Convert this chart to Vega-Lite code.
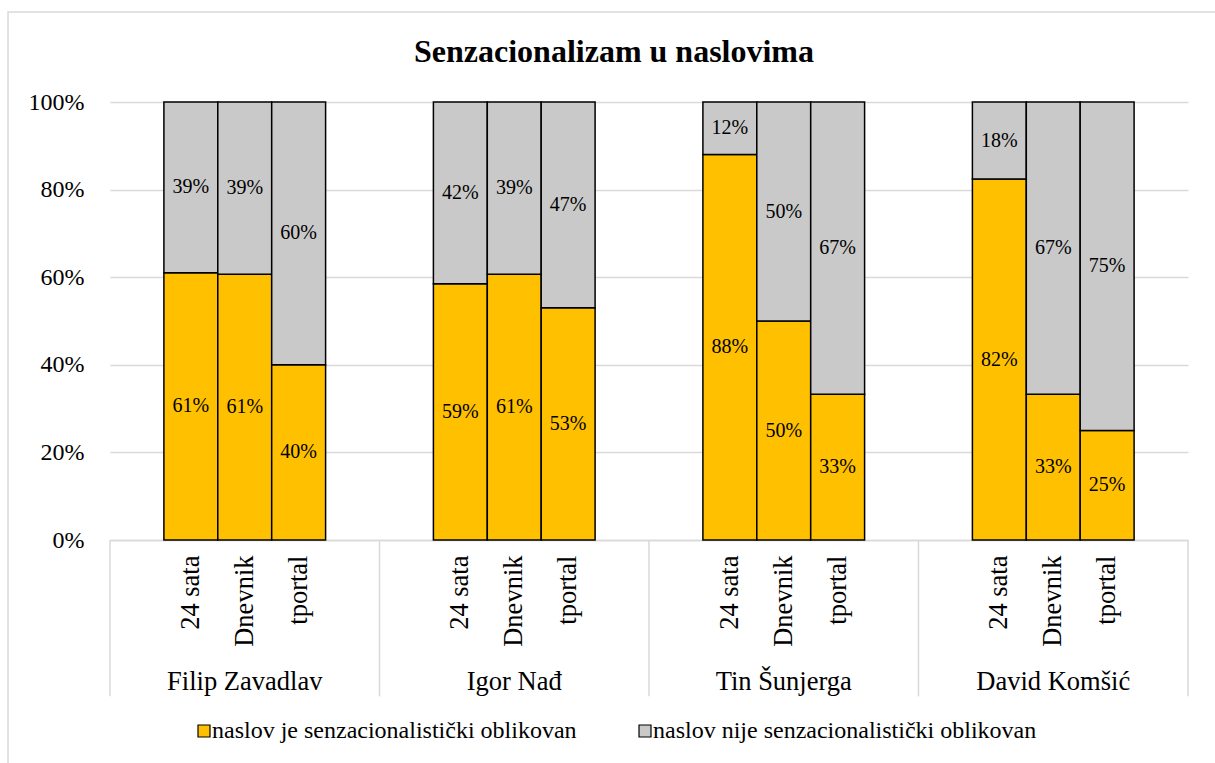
{
  "$schema": "https://vega.github.io/schema/vega-lite/v6.json",
  "width": 1078,
  "height": 438,
  "autosize": "none",
  "padding": {"left": 110, "top": 102, "right": 27, "bottom": 223},
  "background": "white",
  "title": {
    "text": "Senzacionalizam u naslovima",
    "font": "Liberation Serif",
    "fontSize": 32,
    "fontWeight": "bold",
    "color": "black",
    "anchor": "middle",
    "frame": "group",
    "baseline": "alphabetic",
    "dx": -35,
    "offset": -83
  },
  "datasets": {
    "bars": [
      {"slot": "Filip Zavadlav|24 sata", "kategorija": "naslov je senzacionalistički oblikovan", "udio": 0.61, "oznaka": "61%"},
      {"slot": "Filip Zavadlav|24 sata", "kategorija": "naslov nije senzacionalistički oblikovan", "udio": 0.39, "oznaka": "39%"},
      {"slot": "Filip Zavadlav|Dnevnik", "kategorija": "naslov je senzacionalistički oblikovan", "udio": 0.607, "oznaka": "61%"},
      {"slot": "Filip Zavadlav|Dnevnik", "kategorija": "naslov nije senzacionalistički oblikovan", "udio": 0.393, "oznaka": "39%"},
      {"slot": "Filip Zavadlav|tportal", "kategorija": "naslov je senzacionalistički oblikovan", "udio": 0.40, "oznaka": "40%"},
      {"slot": "Filip Zavadlav|tportal", "kategorija": "naslov nije senzacionalistički oblikovan", "udio": 0.60, "oznaka": "60%"},
      {"slot": "Igor Nađ|24 sata", "kategorija": "naslov je senzacionalistički oblikovan", "udio": 0.585, "oznaka": "59%"},
      {"slot": "Igor Nađ|24 sata", "kategorija": "naslov nije senzacionalistički oblikovan", "udio": 0.415, "oznaka": "42%"},
      {"slot": "Igor Nađ|Dnevnik", "kategorija": "naslov je senzacionalistički oblikovan", "udio": 0.607, "oznaka": "61%"},
      {"slot": "Igor Nađ|Dnevnik", "kategorija": "naslov nije senzacionalistički oblikovan", "udio": 0.393, "oznaka": "39%"},
      {"slot": "Igor Nađ|tportal", "kategorija": "naslov je senzacionalistički oblikovan", "udio": 0.53, "oznaka": "53%"},
      {"slot": "Igor Nađ|tportal", "kategorija": "naslov nije senzacionalistički oblikovan", "udio": 0.47, "oznaka": "47%"},
      {"slot": "Tin Šunjerga|24 sata", "kategorija": "naslov je senzacionalistički oblikovan", "udio": 0.88, "oznaka": "88%"},
      {"slot": "Tin Šunjerga|24 sata", "kategorija": "naslov nije senzacionalistički oblikovan", "udio": 0.12, "oznaka": "12%"},
      {"slot": "Tin Šunjerga|Dnevnik", "kategorija": "naslov je senzacionalistički oblikovan", "udio": 0.5, "oznaka": "50%"},
      {"slot": "Tin Šunjerga|Dnevnik", "kategorija": "naslov nije senzacionalistički oblikovan", "udio": 0.5, "oznaka": "50%"},
      {"slot": "Tin Šunjerga|tportal", "kategorija": "naslov je senzacionalistički oblikovan", "udio": 0.333, "oznaka": "33%"},
      {"slot": "Tin Šunjerga|tportal", "kategorija": "naslov nije senzacionalistički oblikovan", "udio": 0.667, "oznaka": "67%"},
      {"slot": "David Komšić|24 sata", "kategorija": "naslov je senzacionalistički oblikovan", "udio": 0.824, "oznaka": "82%"},
      {"slot": "David Komšić|24 sata", "kategorija": "naslov nije senzacionalistički oblikovan", "udio": 0.176, "oznaka": "18%"},
      {"slot": "David Komšić|Dnevnik", "kategorija": "naslov je senzacionalistički oblikovan", "udio": 0.333, "oznaka": "33%"},
      {"slot": "David Komšić|Dnevnik", "kategorija": "naslov nije senzacionalistički oblikovan", "udio": 0.667, "oznaka": "67%"},
      {"slot": "David Komšić|tportal", "kategorija": "naslov je senzacionalistički oblikovan", "udio": 0.25, "oznaka": "25%"},
      {"slot": "David Komšić|tportal", "kategorija": "naslov nije senzacionalistički oblikovan", "udio": 0.75, "oznaka": "75%"}
    ],
    "names": [
      {"slot": "Filip Zavadlav|Dnevnik", "osoba": "Filip Zavadlav"},
      {"slot": "Igor Nađ|Dnevnik", "osoba": "Igor Nađ"},
      {"slot": "Tin Šunjerga|Dnevnik", "osoba": "Tin Šunjerga"},
      {"slot": "David Komšić|Dnevnik", "osoba": "David Komšić"}
    ],
    "seps": [
      {"slot": "Filip Zavadlav|_L"},
      {"slot": "Igor Nađ|_L"},
      {"slot": "Tin Šunjerga|_L"},
      {"slot": "David Komšić|_L"}
    ],
    "sepEnd": [
      {"slot": "David Komšić|_R"}
    ],
    "frame": [{}]
  },
  "layer": [
    {
      "data": {"name": "frame"},
      "mark": {"type": "rect", "fillOpacity": 0, "stroke": "#d9d9d9", "strokeWidth": 1.5},
      "encoding": {
        "x": {"datum": -0.0946, "type": "quantitative", "scale": {"domain": [0, 1]}, "axis": null},
        "x2": {"datum": 1.028},
        "y": {"datum": 1.2055, "type": "quantitative", "scale": {"domain": [0, 1]}, "axis": null},
        "y2": {"datum": -0.516}
      }
    },
    {
      "layer": [
        {
          "data": {"name": "bars"},
          "mark": {"type": "bar", "stroke": "black", "strokeWidth": 1.5},
          "encoding": {
            "x": {
              "field": "slot",
              "type": "nominal",
              "sort": null,
              "scale": {
                "domain": [
                  "Filip Zavadlav|_L", "Filip Zavadlav|24 sata", "Filip Zavadlav|Dnevnik", "Filip Zavadlav|tportal", "Filip Zavadlav|_R",
                  "Igor Nađ|_L", "Igor Nađ|24 sata", "Igor Nađ|Dnevnik", "Igor Nađ|tportal", "Igor Nađ|_R",
                  "Tin Šunjerga|_L", "Tin Šunjerga|24 sata", "Tin Šunjerga|Dnevnik", "Tin Šunjerga|tportal", "Tin Šunjerga|_R",
                  "David Komšić|_L", "David Komšić|24 sata", "David Komšić|Dnevnik", "David Komšić|tportal", "David Komšić|_R"
                ],
                "paddingInner": 0,
                "paddingOuter": 0
              },
              "axis": {
                "title": null,
                "labelExpr": "indexof(datum.value, '|_') >= 0 ? '' : split(datum.value, '|')[1]",
                "labelAngle": -90,
                "labelFont": "Liberation Serif",
                "labelFontSize": 26.5,
                "labelColor": "black",
                "labelPadding": 15,
                "labelLimit": 300,
                "ticks": false,
                "domainColor": "#d9d9d9",
                "domainWidth": 1.5,
                "grid": false
              }
            },
            "y": {
              "field": "udio",
              "type": "quantitative",
              "stack": "zero",
              "scale": {"domain": [0, 1]},
              "axis": {
                "title": null,
                "format": ".0%",
                "values": [0, 0.2, 0.4, 0.6, 0.8, 1],
                "labelFont": "Liberation Serif",
                "labelFontSize": 24,
                "labelColor": "black",
                "labelPadding": 26,
                "ticks": false,
                "domain": false,
                "grid": true,
                "gridColor": "#d9d9d9",
                "gridWidth": 1.5
              }
            },
            "order": {"field": "kategorija", "type": "nominal", "sort": "ascending"},
            "color": {
              "field": "kategorija",
              "type": "nominal",
              "scale": {
                "domain": ["naslov je senzacionalistički oblikovan", "naslov nije senzacionalistički oblikovan"],
                "range": ["#FFC000", "#C9C9C9"]
              },
              "legend": {
                "title": null,
                "orient": "none",
                "legendX": 82,
                "legendY": 617,
                "direction": "horizontal",
                "labelFont": "Liberation Serif",
                "labelFontSize": 24,
                "labelColor": "black",
                "labelLimit": 600,
                "labelOffset": -4,
                "columnPadding": 56,
                "symbolType": "square",
                "symbolSize": 144,
                "symbolStrokeColor": "black",
                "symbolStrokeWidth": 1.2
              }
            }
          }
        },
        {
          "data": {"name": "bars"},
          "mark": {"type": "text", "font": "Liberation Serif", "fontSize": 20, "color": "black", "baseline": "middle", "align": "center"},
          "encoding": {
            "x": {"field": "slot", "type": "nominal"},
            "y": {"field": "udio", "type": "quantitative", "stack": "zero", "bandPosition": 0.5},
            "detail": {"field": "kategorija", "type": "nominal"},
            "order": {"field": "kategorija", "type": "nominal", "sort": "ascending"},
            "text": {"field": "oznaka", "type": "nominal"}
          }
        },
        {
          "data": {"name": "seps"},
          "mark": {"type": "rule", "color": "#d9d9d9", "strokeWidth": 1.5},
          "encoding": {
            "x": {"field": "slot", "type": "nominal", "bandPosition": 0},
            "y": {"datum": 0},
            "y2": {"datum": -0.357}
          }
        },
        {
          "data": {"name": "sepEnd"},
          "mark": {"type": "rule", "color": "#d9d9d9", "strokeWidth": 1.5},
          "encoding": {
            "x": {"field": "slot", "type": "nominal", "bandPosition": 1},
            "y": {"datum": 0},
            "y2": {"datum": -0.357}
          }
        },
        {
          "data": {"name": "names"},
          "mark": {"type": "text", "font": "Liberation Serif", "fontSize": 26.5, "color": "black", "baseline": "middle", "align": "center"},
          "encoding": {
            "x": {"field": "slot", "type": "nominal"},
            "y": {"datum": -0.324},
            "text": {"field": "osoba", "type": "nominal"}
          }
        }
      ]
    }
  ],
  "resolve": {"scale": {"x": "independent", "y": "independent"}},
  "config": {"view": {"stroke": null}}
}
